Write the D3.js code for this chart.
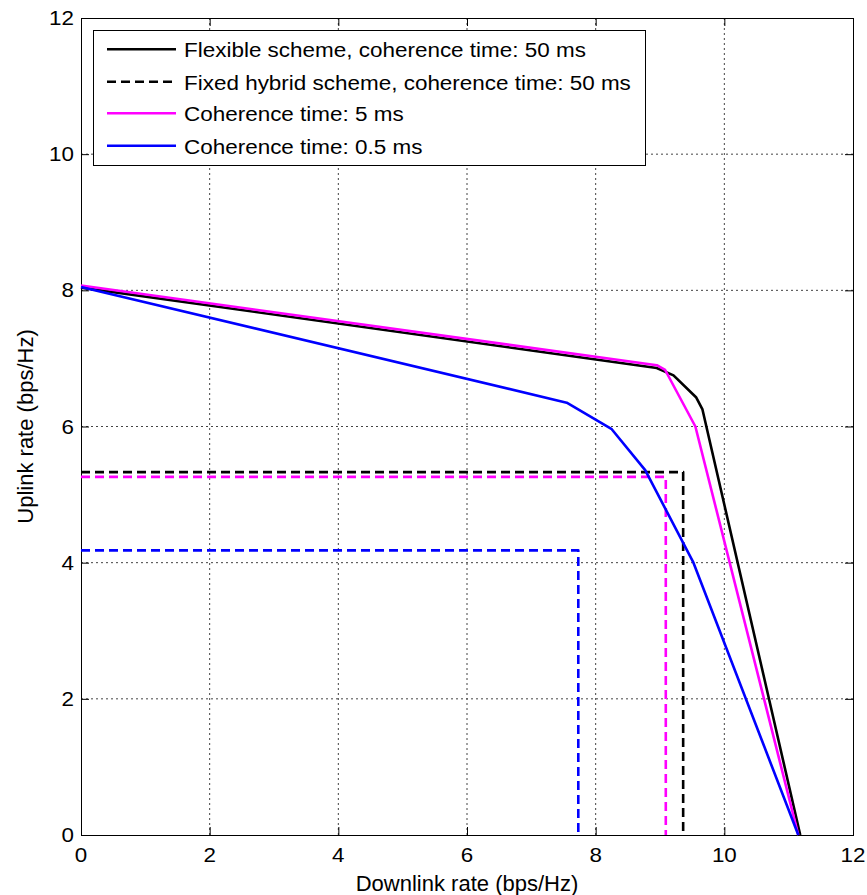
<!DOCTYPE html>
<html><head><meta charset="utf-8">
<script src="https://cdn.jsdelivr.net/npm/d3@7"></script>
<style>body{margin:0;background:#fff}svg{display:block}text{font-family:"Liberation Sans",Arial,sans-serif;fill:#000}</style>
</head><body><svg id="c" width="867" height="895"></svg>
<script>
// ---- data ----
const xTicks = [0, 2, 4, 6, 8, 10, 12];
const yTicks = [0, 2, 4, 6, 8, 10, 12];
const xFlex50 = [0, 8.95, 9.21, 9.56, 9.66, 11.18];
const yFlex50 = [8.04, 6.86, 6.75, 6.43, 6.25, 0];
const xFlex5 = [0, 8.95, 9.08, 9.55, 11.15];
const yFlex5 = [8.07, 6.90, 6.83, 6.0, 0];
const xFlex05 = [0, 7.55, 8.25, 8.77, 9.52, 11.15];
const yFlex05 = [8.05, 6.35, 5.96, 5.36, 4.0, 0];
const fixedDL = [9.36, 9.09, 7.73];   // 50 ms, 5 ms, 0.5 ms
const fixedUL = [5.33, 5.26, 4.18];
const legendLabels = ["Flexible scheme, coherence time: 50 ms", "Fixed hybrid scheme, coherence time: 50 ms", "Coherence time: 5 ms", "Coherence time: 0.5 ms"];
const xLabel = "Downlink rate (bps/Hz)";
const yLabel = "Uplink rate (bps/Hz)";

// ---- layout ----
const L = 81, R = 853, T = 18, B = 835;
const x = d3.scaleLinear().domain([0, 12]).range([L, R]);
const y = d3.scaleLinear().domain([0, 12]).range([B, T]);
const svg = d3.select("#c");
const colors = {k: "#000000", m: "#ff00ff", b: "#0000ff"};

// grid
const g = svg.append("g");
g.selectAll(".gx").data(xTicks.slice(1, -1)).enter().append("line")
  .attr("x1", d => x(d)).attr("x2", d => x(d)).attr("y1", T).attr("y2", B)
  .attr("stroke", "#444").attr("stroke-width", 1).attr("stroke-dasharray", "2,3");
g.selectAll(".gy").data(yTicks.slice(1, -1)).enter().append("line")
  .attr("y1", d => y(d)).attr("y2", d => y(d)).attr("x1", L).attr("x2", R)
  .attr("stroke", "#444").attr("stroke-width", 1).attr("stroke-dasharray", "2,3");

// axes (inward ticks, box)
const axB = d3.axisBottom(x).tickValues(xTicks).tickSize(-8).tickFormat("");
const axT = d3.axisTop(x).tickValues(xTicks).tickSize(-8).tickFormat("");
const axL = d3.axisLeft(y).tickValues(yTicks).tickSize(-8).tickFormat("");
const axR = d3.axisRight(y).tickValues(yTicks).tickSize(-8).tickFormat("");
[[axB, `translate(0,${B})`], [axT, `translate(0,${T})`], [axL, `translate(${L},0)`], [axR, `translate(${R},0)`]].forEach(([a, t]) => {
  const s = svg.append("g").attr("transform", t).call(a);
  s.selectAll("path,line").attr("stroke", "#000").attr("stroke-width", 1);
  s.select(".domain").attr("shape-rendering", "crispEdges");
});

// tick labels
svg.selectAll(".xt").data(xTicks).enter().append("text")
  .attr("transform", d => `translate(${x(d)},${B + 27}) scale(1.12,1)`)
  .attr("text-anchor", "middle").attr("font-size", 20).text(d => d);
svg.selectAll(".yt").data(yTicks).enter().append("text")
  .attr("transform", d => `translate(${L - 7},${y(d) + 7}) scale(1.12,1)`)
  .attr("text-anchor", "end").attr("font-size", 20).text(d => d);

// axis labels
svg.append("text").attr("x", (L + R) / 2).attr("y", 891).attr("text-anchor", "middle")
  .attr("font-size", 22).text(xLabel);
svg.append("text").attr("transform", `translate(33,${(T + B) / 2}) rotate(-90)`)
  .attr("text-anchor", "middle").attr("font-size", 22).text(yLabel);

// series
const line = d3.line().x(d => x(d[0])).y(d => y(d[1]));
const zip = (a, b) => a.map((v, i) => [v, b[i]]);
const rect = (dl, ul) => [[0, ul], [dl, ul], [dl, 0]];
const series = [
  {pts: zip(xFlex50, yFlex50), c: colors.k, dash: null},
  {pts: rect(fixedDL[0], fixedUL[0]), c: colors.k, dash: "9,5"},
  {pts: zip(xFlex5, yFlex5), c: colors.m, dash: null},
  {pts: rect(fixedDL[1], fixedUL[1]), c: colors.m, dash: "9,5"},
  {pts: zip(xFlex05, yFlex05), c: colors.b, dash: null},
  {pts: rect(fixedDL[2], fixedUL[2]), c: colors.b, dash: "9,5"}
];
svg.append("g").selectAll("path").data(series).enter().append("path")
  .attr("d", d => line(d.pts)).attr("fill", "none").attr("stroke", d => d.c)
  .attr("stroke-width", 2.6).attr("stroke-dasharray", d => d.dash)
  .attr("stroke-linejoin", "round");

// legend
const lg = svg.append("g");
lg.append("rect").attr("x", 93.5).attr("y", 30.5).attr("width", 552).attr("height", 135)
  .attr("fill", "#fff").attr("stroke", "#000").attr("stroke-width", 1);
const legItems = [
  {c: colors.k, dash: null}, {c: colors.k, dash: "9,5"}, {c: colors.m, dash: null}, {c: colors.b, dash: null}
];
const rowY = [49.3, 81.7, 113.3, 145.7];
legItems.forEach((it, i) => {
  lg.append("line").attr("x1", 107).attr("x2", 176).attr("y1", rowY[i]).attr("y2", rowY[i])
    .attr("stroke", it.c).attr("stroke-width", 2.6).attr("stroke-dasharray", it.dash);
  lg.append("text").attr("transform", `translate(184,${rowY[i] + 8}) scale(1.07,1)`)
    .attr("font-size", 21).text(legendLabels[i]);
});
</script></body></html>
